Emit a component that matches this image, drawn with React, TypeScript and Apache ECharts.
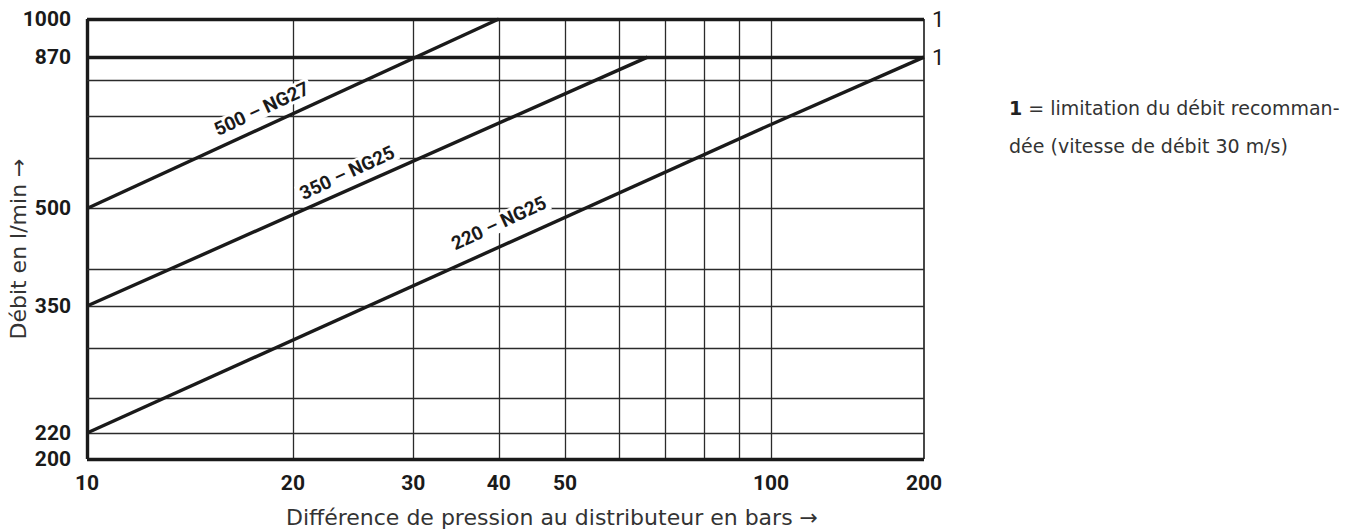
import React, { useEffect, useRef } from "react";
import * as echarts from "echarts";

// ---- data ----
const xGridValues = [10, 20, 30, 40, 50, 60, 70, 80, 90, 100];
const xTickLabels = [10, 20, 30, 40, 50, 100, 200];
const yGridValues = [200, 220, 250, 300, 350, 400, 500, 600, 700, 800, 870, 1000];
const yTickLabels = [200, 220, 350, 500, 870, 1000];
const limitValues = [870, 1000]; // "1" = recommended flow limit
const limitMark = "1";

const seriesNames = ["500 – NG27", "350 – NG25", "220 – NG25"];
const line500: number[][] = [[10, 500], [40, 1000]];
const line350: number[][] = [[10, 350], [66, 870]];
const line220: number[][] = [[10, 220], [100, 680], [200, 870]];
// label anchors in data coordinates (x bar, y l/min)
const labelAnchors: number[][] = [[18, 720], [24, 570], [40, 474]];

const xTitle = "Différence de pression au distributeur en bars →";
const yTitle = "Débit en l/min →";
const noteBold = "1";
const noteText1 = " = limitation du débit recomman-";
const noteText2 = "dée (vitesse de débit 30 m/s)";

const FONT_NARROW = "Roboto, 'Liberation Sans', sans-serif";
const FONT_TEXT = "'DejaVu Sans', 'Noto Sans', sans-serif";
const INK = "#1a1a1a";
const GRID_INK = "#2b2b2b";
const THICK = 3.4;
const THIN = 1.3;

export default function App() {
  const ref = useRef<HTMLDivElement>(null);
  useEffect(() => {
    document.body.style.margin = "0";
    if (!ref.current) return;
    const chart = echarts.init(ref.current, null, { renderer: "svg" });

    const tickLabel = (text: string, position: string, distance: number) => ({
      show: true,
      position,
      formatter: text,
      color: INK,
      fontFamily: FONT_NARROW,
      fontSize: 21,
      fontWeight: "bold",
      distance,
    });

    const thickY = [200, 870, 1000];
    const lowerMax = 100;
    const splitA = line220.filter((p) => p[0] <= lowerMax);
    const splitB = line220.filter((p) => p[0] >= lowerMax);

    const gridAData: any[] = [
      ...xGridValues.map((v) => ({
        xAxis: v,
        lineStyle: { width: v === 10 ? THICK : THIN, color: v === 10 ? INK : GRID_INK, type: "solid" },
        label: xTickLabels.includes(v) ? tickLabel(String(v), "start", 13) : { show: false },
      })),
      ...yGridValues.map((v) => ({
        yAxis: v,
        lineStyle: { width: thickY.includes(v) ? THICK : THIN, color: thickY.includes(v) ? INK : GRID_INK, type: "solid" },
        label: yTickLabels.includes(v) ? tickLabel(String(v), "start", 16) : { show: false },
      })),
    ];
    const gridBData: any[] = [
      {
        xAxis: 200,
        lineStyle: { width: 1.6, color: INK, type: "solid" },
        label: xTickLabels.includes(200) ? tickLabel("200", "start", 13) : { show: false },
      },
      ...yGridValues.map((v) => ({
        yAxis: v,
        lineStyle: { width: thickY.includes(v) ? THICK : THIN, color: thickY.includes(v) ? INK : GRID_INK, type: "solid" },
        label: limitValues.includes(v)
          ? { ...tickLabel(limitMark, "end", 8), fontWeight: "normal", fontSize: 22 }
          : { show: false },
      })),
    ];

    const markLineBase = {
      silent: true,
      symbol: ["none", "none"],
      z: 1,
      animation: false,
    };

    const labelPoint = (i: number) => ({
      silent: true,
      z: 10,
      symbol: "circle",
      symbolSize: 0,
      animation: false,
      data: [{ coord: labelAnchors[i] }],
      label: {
        show: true,
        position: "inside",
        formatter: seriesNames[i],
        rotate: 25,
        color: INK,
        fontFamily: FONT_NARROW,
        fontSize: 19,
        fontWeight: "bold",
        backgroundColor: "#ffffff",
        padding: [0, 3],
      },
    });

    const lineStyle = { width: THICK, color: INK };

    const option: any = {
      animation: false,
      grid: [
        { left: 87, top: 19, width: 684, height: 440 },
        { left: 771, top: 19, width: 153, height: 440 },
      ],
      xAxis: [
        { type: "log", gridIndex: 0, min: 10, max: 100, logBase: 10, axisLine: { show: false }, axisTick: { show: false }, axisLabel: { show: false }, splitLine: { show: false } },
        { type: "log", gridIndex: 1, min: 100, max: 200, logBase: 10, axisLine: { show: false }, axisTick: { show: false }, axisLabel: { show: false }, splitLine: { show: false } },
      ],
      yAxis: [
        { type: "log", gridIndex: 0, min: 200, max: 1000, logBase: 10, axisLine: { show: false }, axisTick: { show: false }, axisLabel: { show: false }, splitLine: { show: false } },
        { type: "log", gridIndex: 1, min: 200, max: 1000, logBase: 10, axisLine: { show: false }, axisTick: { show: false }, axisLabel: { show: false }, splitLine: { show: false } },
      ],
      series: [
        {
          name: "gridA",
          type: "line",
          xAxisIndex: 0,
          yAxisIndex: 0,
          data: [],
          z: 1,
          silent: true,
          markLine: { ...markLineBase, data: gridAData },
        },
        {
          name: "gridB",
          type: "line",
          xAxisIndex: 1,
          yAxisIndex: 1,
          data: [],
          z: 1,
          silent: true,
          markLine: { ...markLineBase, data: gridBData },
        },
        {
          name: seriesNames[0],
          type: "line",
          xAxisIndex: 0,
          yAxisIndex: 0,
          data: line500,
          symbol: "none",
          z: 3,
          silent: true,
          lineStyle,
          markPoint: labelPoint(0),
        },
        {
          name: seriesNames[1],
          type: "line",
          xAxisIndex: 0,
          yAxisIndex: 0,
          data: line350,
          symbol: "none",
          z: 3,
          silent: true,
          lineStyle,
          markPoint: labelPoint(1),
        },
        {
          name: seriesNames[2],
          type: "line",
          xAxisIndex: 0,
          yAxisIndex: 0,
          data: splitA,
          symbol: "none",
          z: 3,
          silent: true,
          lineStyle,
          markPoint: labelPoint(2),
        },
        {
          name: seriesNames[2] + " ",
          type: "line",
          xAxisIndex: 1,
          yAxisIndex: 1,
          data: splitB,
          symbol: "none",
          z: 3,
          silent: true,
          lineStyle,
        },
      ],
      graphic: [
        {
          type: "text",
          x: 552,
          y: 517,
          style: {
            text: xTitle,
            fontFamily: FONT_TEXT,
            fontSize: 22,
            fill: "#333333",
            align: "center",
            verticalAlign: "middle",
          },
        },
        {
          type: "text",
          x: 18,
          y: 249,
          rotation: Math.PI / 2,
          style: {
            text: yTitle,
            fontFamily: FONT_TEXT,
            fontSize: 22,
            fill: "#333333",
            align: "center",
            verticalAlign: "middle",
          },
        },
        {
          type: "text",
          x: 1009,
          y: 89,
          style: {
            text: "{b|" + noteBold + "}{r|" + noteText1 + "}\n{r|" + noteText2 + "}",
            fontFamily: FONT_TEXT,
            fontSize: 19,
            lineHeight: 38,
            fill: "#333333",
            align: "left",
            verticalAlign: "top",
            rich: {
              b: { fontFamily: FONT_TEXT, fontSize: 19, fontWeight: "bold", lineHeight: 38, fill: "#222222" },
              r: { fontFamily: FONT_TEXT, fontSize: 19, lineHeight: 38, fill: "#333333" },
            },
          },
        },
      ],
    };

    chart.setOption(option);
    return () => chart.dispose();
  }, []);

  return <div ref={ref} style={{ width: 1353, height: 530, overflow: "hidden" }} />;
}
